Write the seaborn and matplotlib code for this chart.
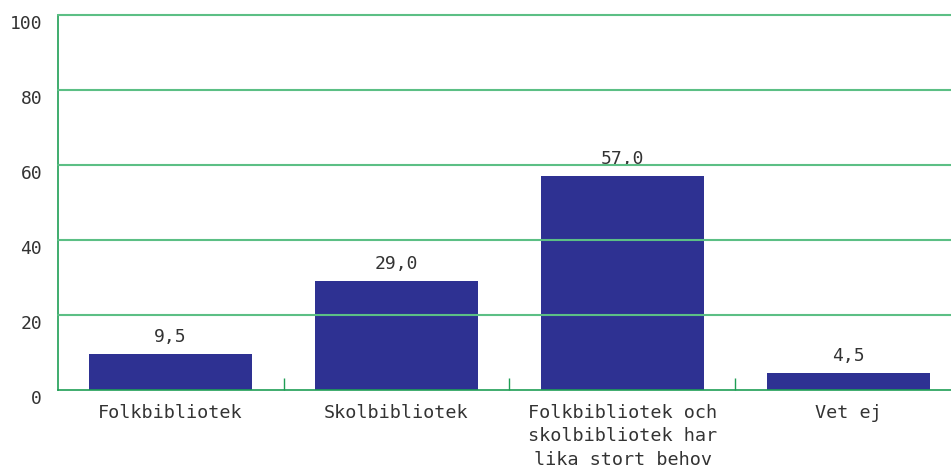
import matplotlib
matplotlib.use("Agg")
import matplotlib.pyplot as plt
import seaborn as sns
import pandas as pd
from matplotlib.ticker import FixedLocator

categories = ["Folkbibliotek", "Skolbibliotek",
              "Folkbibliotek och\nskolbibliotek har\nlika stort behov", "Vet ej"]
values = [9.5, 29.0, 57.0, 4.5]
value_labels = ["9,5", "29,0", "57,0", "4,5"]
y_ticks = [0, 20, 40, 60, 80, 100]

sns.set_theme(style="white")
plt.rcParams['font.family'] = ['DejaVu Sans Mono', 'DejaVu Sans']

BAR = "#2e3192"
GRID = "#5cbf85"
AXIS = "#1f9e55"
TXT = "#333333"

df = pd.DataFrame({"cat": categories, "val": values})

fig = plt.figure(figsize=(9.51, 4.67), dpi=100)
left_px, right_px = 57.5, 961.5
ax = fig.add_axes([left_px/951, 77/467, (right_px - left_px)/951, (390-15)/467])
sns.barplot(data=df, x="cat", y="val", color=BAR, saturation=1, width=0.72,
            linewidth=0, ax=ax, zorder=2)

ax.set_ylim(0, 100)
ax.set_xlim(-0.5, 3.5)
ax.set_yticks(y_ticks)
ax.set_yticklabels([str(t) for t in y_ticks])
for lab in ax.get_yticklabels():
    lab.set_verticalalignment("top")
ax.tick_params(axis="y", length=0, pad=11, labelsize=13, labelcolor=TXT)
for y in y_ticks[1:]:
    ax.axhline(y, color=GRID, lw=1.5, zorder=3, clip_on=False)

ax.set_xlabel("")
ax.set_ylabel("")
ax.tick_params(axis="x", length=0, pad=10, labelsize=13.3, labelcolor=TXT)
for lab in ax.get_xticklabels():
    lab.set_linespacing(1.38)
    lab.set_verticalalignment("top")

ax.xaxis.set_minor_locator(FixedLocator([0.5, 1.5, 2.5]))
ax.tick_params(axis="x", which="minor", direction="in", length=9, width=1, color=AXIS, bottom=True)

for s in ["top", "right"]:
    ax.spines[s].set_visible(False)
for s in ["left", "bottom"]:
    ax.spines[s].set_color(AXIS)
    ax.spines[s].set_linewidth(1.2)

for i, (v, lab) in enumerate(zip(values, value_labels)):
    ax.annotate(lab, (i, v), xytext=(0, 6), textcoords="offset points",
                ha="center", va="bottom", fontsize=13, color=TXT, zorder=1)

fig.savefig("out.png", dpi=100)
